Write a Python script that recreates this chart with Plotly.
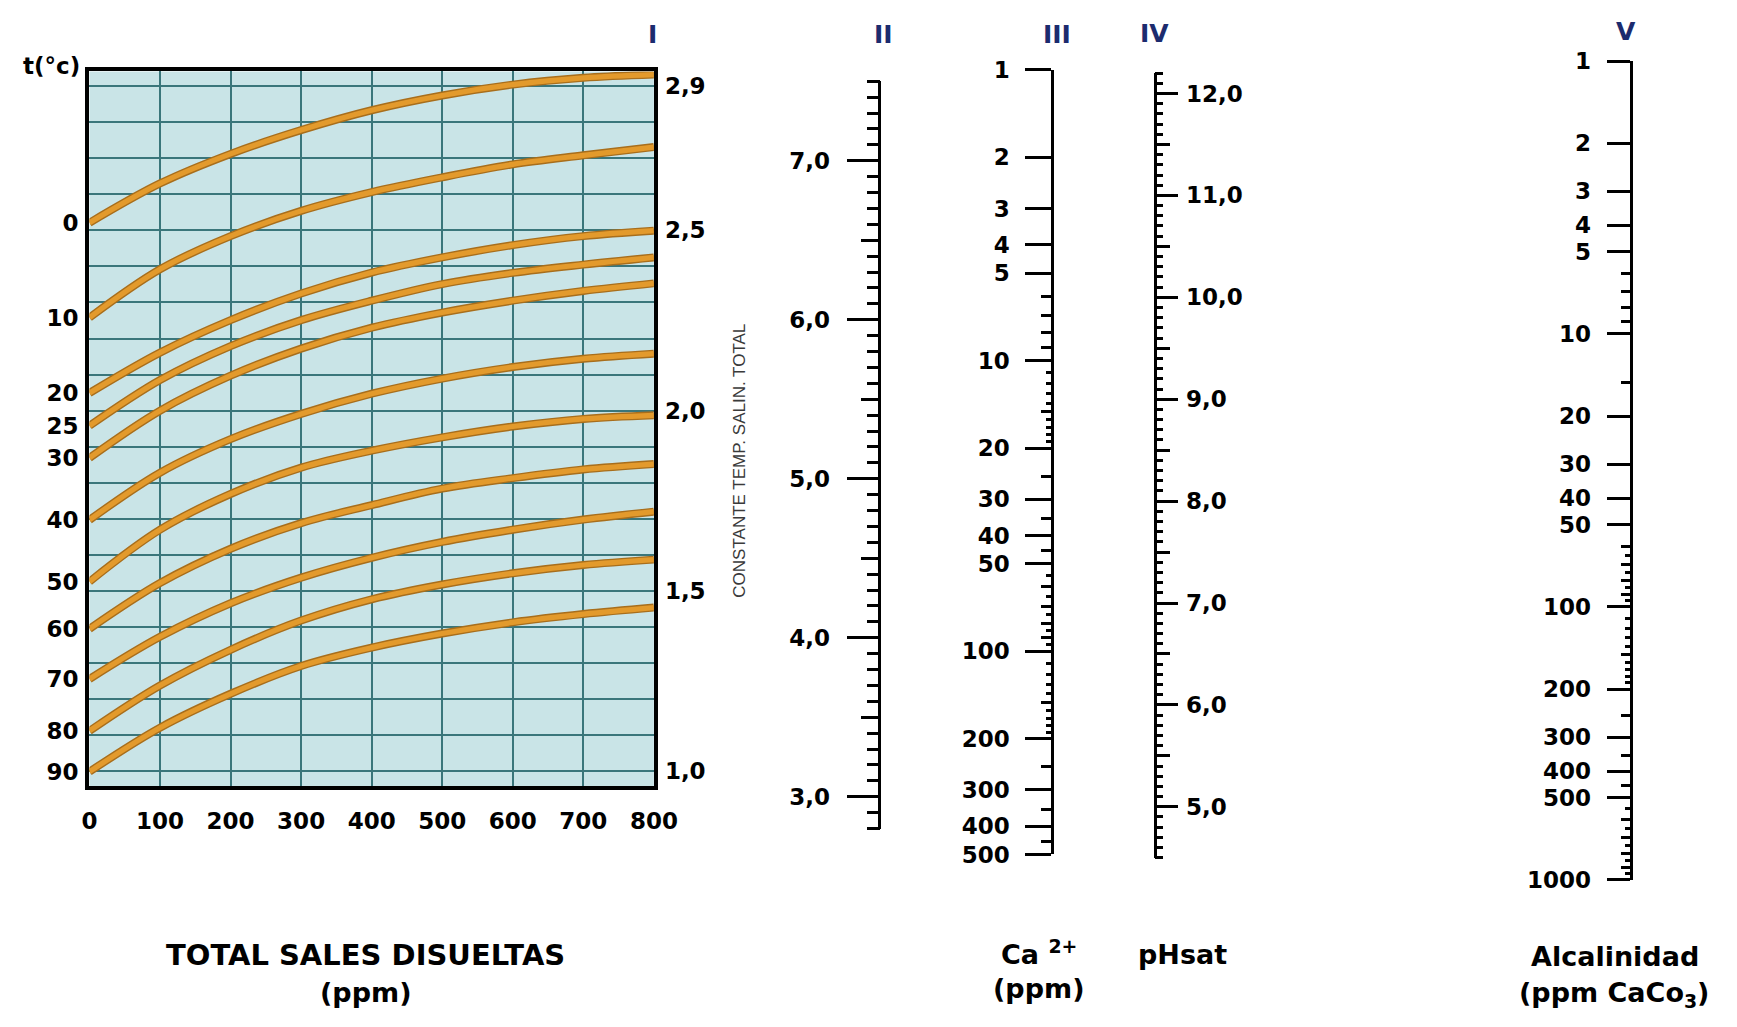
import plotly.graph_objects as go

W, H = 1737, 1027

# ---------------- data: temperature / salinity constant curves ----------------
tds = [0, 100, 200, 300, 400, 500, 600, 700, 800]
temps = ["0", "10", "20", "25", "30", "40", "50", "60", "70", "80", "90"]
c_t0 = [2.521, 2.630, 2.712, 2.778, 2.833, 2.874, 2.904, 2.923, 2.932]
c_t10 = [2.258, 2.392, 2.484, 2.554, 2.606, 2.647, 2.683, 2.708, 2.731]
c_t20 = [2.049, 2.161, 2.251, 2.325, 2.383, 2.425, 2.459, 2.484, 2.499]
c_t25 = [1.958, 2.085, 2.179, 2.251, 2.305, 2.351, 2.382, 2.405, 2.425]
c_t30 = [1.869, 2.000, 2.097, 2.172, 2.230, 2.272, 2.305, 2.332, 2.353]
c_t40 = [1.697, 1.828, 1.921, 1.991, 2.047, 2.089, 2.121, 2.144, 2.158]
c_t50 = [1.526, 1.670, 1.769, 1.842, 1.889, 1.926, 1.956, 1.977, 1.987]
c_t60 = [1.395, 1.522, 1.617, 1.688, 1.738, 1.784, 1.813, 1.837, 1.852]
c_t70 = [1.256, 1.373, 1.466, 1.537, 1.592, 1.636, 1.670, 1.698, 1.720]
c_t80 = [1.112, 1.238, 1.337, 1.418, 1.477, 1.518, 1.549, 1.572, 1.587]
c_t90 = [0.999, 1.121, 1.215, 1.292, 1.343, 1.382, 1.413, 1.436, 1.454]
curves = [c_t0, c_t10, c_t20, c_t25, c_t30, c_t40, c_t50, c_t60, c_t70, c_t80, c_t90]

const_ticks = [1.0, 1.5, 2.0, 2.5, 2.9]
const_labels = ["1,0", "1,5", "2,0", "2,5", "2,9"]

# ---------------- nomogram scales ----------------
# II
s2_major = [3, 4, 5, 6, 7]
s2_labels = ["3,0", "4,0", "5,0", "6,0", "7,0"]
s2_medium = [3.5, 4.5, 5.5, 6.5]
s2_minor = [v / 10 for v in range(28, 76) if v % 5 != 0] + [7.5]
# III  Ca2+ (ppm)
s3_major = [1, 2, 3, 4, 5, 10, 20, 30, 40, 50, 100, 200, 300, 400, 500]
s3_labels = [str(v) for v in s3_major]
s3_medium = [6, 7, 8, 9, 15, 25, 35, 45, 60, 70, 80, 90, 150, 250, 350, 450]
s3_minor = [11, 12, 13, 14, 16, 17, 18, 19, 55, 65, 75, 85, 95,
            110, 120, 130, 140, 160, 170, 180, 190]
# IV  pHsat
s4_major = [5, 6, 7, 8, 9, 10, 11, 12]
s4_labels = ["5,0", "6,0", "7,0", "8,0", "9,0", "10,0", "11,0", "12,0"]
s4_medium = [5.5, 6.5, 7.5, 8.5, 9.5, 10.5, 11.5]
s4_minor = [4.5] + [v / 10 for v in range(46, 123) if v % 5 != 0]
# V  Alcalinidad
s5_major = [1, 2, 3, 4, 5, 10, 20, 30, 40, 50, 100, 200, 300, 400, 500, 1000]
s5_labels = [str(v) for v in s5_major]
s5_medium = [6, 7, 8, 9, 15, 60, 70, 80, 90, 150, 250, 350, 450, 600, 700, 800, 900]
s5_minor = [65, 75, 85, 95, 110, 120, 130, 140, 160, 170, 180, 190,
            550, 650, 750, 850, 950]


def fx(p):
    return p / W


def fy(p):
    return 1 - p / H


BOLD = dict(family="DejaVu Sans", size=23, color="black", weight="bold")
GRID = "#3A767B"
YR = [0.9595, 2.9405]

fig = go.Figure()
for t, vals in zip(temps, curves):
    fig.add_trace(go.Scatter(x=tds, y=vals, mode="lines", showlegend=False, hoverinfo="skip",
                             line=dict(color="#A86E1C", width=8, shape="spline", smoothing=1.0)))
    fig.add_trace(go.Scatter(x=tds, y=vals, mode="lines", name=t + " °C", showlegend=False,
                             line=dict(color="#E39A2C", width=5.2, shape="spline", smoothing=1.0)))


def anchor_trace(xa, ya, yvals):
    # invisible markers so that the axis is drawn
    fig.add_trace(go.Scatter(x=[0] * len(yvals), y=yvals, xaxis=xa, yaxis=ya, mode="markers",
                             marker=dict(opacity=0, size=1), hoverinfo="skip", showlegend=False))


anchor_trace("x", "y2", [c[0] for c in curves])
anchor_trace("x", "y3", const_ticks)

layout = dict(
    width=W, height=H, margin=dict(l=0, r=0, t=0, b=0),
    paper_bgcolor="white", plot_bgcolor="rgba(0,0,0,0)", showlegend=False,
    xaxis=dict(domain=[fx(83), fx(658)], range=[0, 800], tickmode="array", tickvals=tds,
               ticktext=[str(v) for v in tds], showgrid=True, gridcolor=GRID, gridwidth=1.5,
               showline=True, mirror=True, linecolor="black", linewidth=3.5, ticks="",
               tickfont=BOLD, ticklabelstandoff=12, zeroline=False, fixedrange=True),
    yaxis=dict(domain=[fy(793), fy(60)], range=YR, tickmode="linear", tick0=1.0, dtick=0.1,
               showgrid=True, gridcolor=GRID, gridwidth=1.5, showticklabels=False, ticks="",
               showline=True, mirror=True, linecolor="black", linewidth=3.5, zeroline=False,
               fixedrange=True),
    yaxis2=dict(overlaying="y", anchor="x", side="left", range=YR, tickmode="array",
                tickvals=[c[0] for c in curves], ticktext=temps, showgrid=False, ticks="",
                tickfont=BOLD, ticklabelstandoff=10, zeroline=False, showline=False,
                fixedrange=True),
    yaxis3=dict(overlaying="y", anchor="x", side="right", range=YR, tickmode="array",
                tickvals=const_ticks, ticktext=const_labels, showgrid=False, ticks="",
                tickfont=BOLD, ticklabelstandoff=10, zeroline=False, showline=False,
                fixedrange=True),
)


def add_scale(n, xline, side, ytop, ybot, rng, typ, major, labels, medium, minor, lens, standoff):
    w = 0.006
    dom = [fx(xline), fx(xline) + w] if side == "left" else [fx(xline) - w, fx(xline)]
    layout["xaxis%d" % n] = dict(domain=dom, anchor="y%d" % n, visible=False, range=[0, 1],
                                 fixedrange=True)
    ydom = [fy(ybot), fy(ytop)]
    common = dict(anchor="x%d" % n, side=side, type=typ, range=rng, showgrid=False,
                  zeroline=False, ticks="outside", tickcolor="black", tickwidth=2.5,
                  fixedrange=True)
    layout["yaxis%d" % n] = dict(domain=ydom, tickmode="array", tickvals=major, ticktext=labels,
                                 ticklen=lens[0], tickfont=BOLD, ticklabelstandoff=standoff,
                                 showline=True, linecolor="black", linewidth=2.8, **common)
    layout["yaxis%d" % (n + 1)] = dict(overlaying="y%d" % n, tickmode="array", tickvals=medium,
                                       ticklen=lens[1], showticklabels=False, showline=False,
                                       **common)
    layout["yaxis%d" % (n + 2)] = dict(overlaying="y%d" % n, tickmode="array", tickvals=minor,
                                       ticklen=lens[2], showticklabels=False, showline=False,
                                       **common)
    anchor_trace("x%d" % n, "y%d" % n, major)
    anchor_trace("x%d" % n, "y%d" % (n + 1), medium)
    anchor_trace("x%d" % n, "y%d" % (n + 2), minor)


# log scales run downwards (1 at the top), so their ranges are reversed
add_scale(4, 889, "left", 70, 836.7, [2.8, 7.5], "linear", s2_major, s2_labels, s2_medium,
          s2_minor, (31, 19, 13), 12)
add_scale(7, 1066, "left", 58.3, 863.3, [2.69897, 0], "log", s3_major, s3_labels, s3_medium,
          s3_minor, (26, 12, 7), 11)
add_scale(10, 1167, "right", 61.7, 866.7, [4.5, 12.2], "linear", s4_major, s4_labels, s4_medium,
          s4_minor, (22, 15, 8), 3)
add_scale(13, 1655, "left", 49.3, 889.3, [3, 0], "log", s5_major, s5_labels, s5_medium,
          s5_minor, (23, 11, 7), 11)

fig.update_layout(**layout)

# plot background of the main panel
fig.add_shape(type="rect", xref="x domain", yref="y domain", x0=0, x1=1, y0=0, y1=1,
              fillcolor="#C9E4E7", line=dict(width=0), layer="below")

NAVY = "#1C2B6E"
TITLE = dict(family="DejaVu Sans", size=27, color="black", weight="bold")
TITLE_W = dict(family="DejaVu Sans", size=29, color="black", weight="bold")
ROMAN = dict(family="DejaVu Sans", size=25, color=NAVY, weight="bold")
ann = [
    ("I", 657, 22, ROMAN, 0),
    ("II", 892, 22, ROMAN, 0),
    ("III", 1069, 22, ROMAN, 0),
    ("IV", 1168, 21, ROMAN, 0),
    ("V", 1648, 19, ROMAN, 0),
    ("t(°c)", 44, 54, BOLD, 0),
    ("CONSTANTE TEMP. SALIN. TOTAL", 745, 459,
     dict(family="Liberation Sans", size=17, color="#3A3A3A"), -90),
    ("TOTAL SALES DISUELTAS", 364, 966, TITLE_W, 0),
    ("(ppm)", 364, 1005, TITLE, 0),
    ("Ca <sup>2+</sup>", 1050, 964, TITLE, 0),
    ("(ppm)", 1050, 1001, TITLE, 0),
    ("pHsat", 1197, 966, TITLE, 0),
    ("Alcalinidad", 1637, 968, TITLE, 0),
    ("(ppm CaCo<sub>3</sub>)", 1636, 1007, TITLE, 0),
]
for text, x, y, font, ang in ann:
    fig.add_annotation(text=text, x=fx(x), y=fy(y), xref="paper", yref="paper",
                       xanchor="center", yanchor="middle", showarrow=False, font=font,
                       textangle=ang)

fig.write_html("out.html", config={"displayModeBar": False},
               post_script="document.body.style.margin='0';document.body.style.overflow='hidden';")
